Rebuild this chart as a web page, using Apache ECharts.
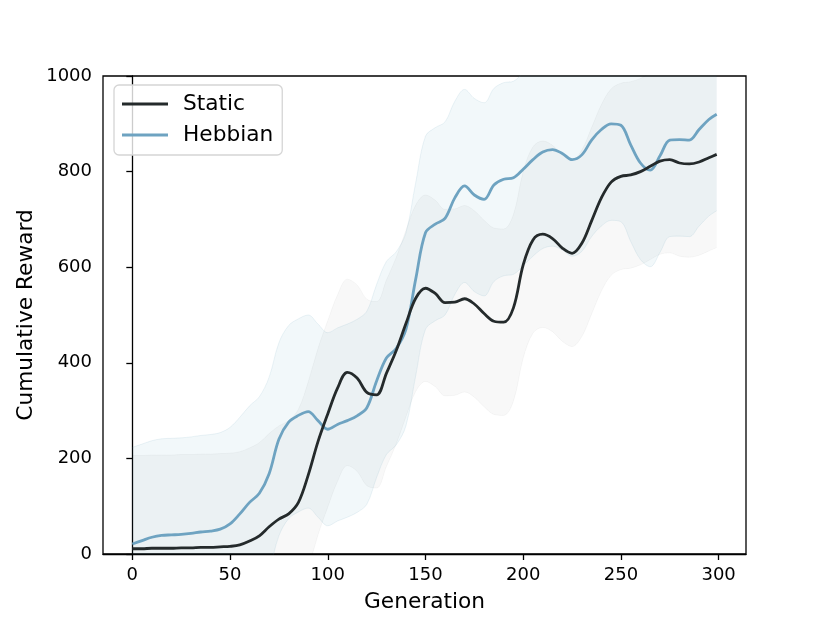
<!DOCTYPE html>
<html>
<head>
<meta charset="utf-8">
<script src="https://cdn.jsdelivr.net/npm/echarts@6/dist/echarts.min.js"></script>
<style>html,body{margin:0;padding:0;background:#fff}#chart{width:830px;height:623px}</style>
</head>
<body>
<div id="chart"></div>
<script>
const generations = [0,5,10,15,20,25,30,35,40,45,50,55,60,65,70,75,80,85,90,95,100,105,110,115,120,125,130,135,140,145,150,155,160,165,170,175,180,185,190,195,200,205,210,215,220,225,230,235,240,245,250,255,260,265,270,275,280,285,290,295,299];
const staticMean = [11,11,12,12,12,13,13,14,14,15,16,19,27,38,57,73,84,108,165,235,293,347,380,368,338,333,378,425,482,535,556,545,526,527,534,523,503,487,485,515,605,657,669,660,640,629,650,697,745,778,790,793,800,811,822,825,818,816,820,829,836];
const staticLower = [-184,-184,-183,-183,-183,-182,-182,-181,-181,-180,-179,-176,-168,-157,-138,-122,-111,-87,-30,40,98,152,185,173,143,138,183,230,287,340,361,350,331,332,339,328,308,292,290,320,410,462,474,465,445,434,455,502,550,583,595,598,605,616,627,630,623,621,625,634,641];
const staticUpper = [206,206,207,207,207,208,208,209,209,210,211,214,222,233,252,268,279,303,360,430,488,542,575,563,533,528,573,620,677,730,751,740,721,722,729,718,698,682,680,710,800,852,864,855,835,824,845,892,940,973,985,988,995,1006,1017,1020,1013,1011,1015,1024,1031];
const hebbianMean = [21,28,35,39,40,41,43,46,48,52,63,84,108,127,168,240,276,290,298,279,261,271,279,289,306,362,410,430,470,575,672,690,702,745,770,751,742,772,784,787,805,825,841,846,838,825,835,866,888,900,897,856,818,803,833,866,867,866,888,909,920];
const hebbianLower = [-181,-174,-167,-163,-162,-161,-159,-156,-154,-150,-139,-118,-94,-75,-34,38,74,88,96,77,59,69,77,87,104,160,208,228,268,373,470,488,500,543,568,549,540,570,582,585,603,623,639,644,636,623,633,664,686,698,695,654,616,601,631,664,665,664,686,707,718];
const hebbianUpper = [223,230,237,241,242,243,245,248,250,254,265,286,310,329,370,442,478,492,500,481,463,473,481,491,508,564,612,632,672,777,874,892,904,947,972,953,944,974,986,989,1007,1027,1043,1048,1040,1027,1037,1068,1090,1102,1099,1058,1020,1005,1035,1068,1069,1068,1090,1111,1122];
const xTicks = [0,50,100,150,200,250,300];
const yTicks = [0,200,400,600,800,1000];

const FONT = 'DejaVu Sans';
const STATIC_COLOR = '#242a2b';
const HEBB_COLOR = '#6ea3c1';

// rows are [value, generation]; encode maps column 1 to x and column 0 to y,
// so that stacking happens on the value (y) column.
const rows = (ys) => generations.map((g, i) => [ys[i], g]);
const diffRows = (lo, hi) => generations.map((g, i) => [hi[i] - lo[i], g]);
const ENC = {x: 1, y: 0};
const SMOOTH = 0.35;

const chart = echarts.init(document.getElementById('chart'), null, {renderer: 'canvas'});
chart.setOption({
  animation: false,
  backgroundColor: '#fff',
  grid: {left: 103, right: 84, top: 76, bottom: 69, show: true, borderColor: '#000', borderWidth: 1.3, backgroundColor: 'transparent'},
  legend: {
    orient: 'vertical', left: 114, top: 85,
    data: [{name: 'Static', icon: 'rect'}, {name: 'Hebbian', icon: 'rect'}],
    itemWidth: 46, itemHeight: 3, itemGap: 7,
    backgroundColor: 'rgba(255,255,255,0.8)', borderColor: '#d5d5d5', borderWidth: 1.3, borderRadius: 5,
    padding: [7, 9, 8, 8],
    textStyle: {fontFamily: FONT, fontSize: 21.7, color: '#000', lineHeight: 24, padding: [0, 0, 0, 10]}
  },
  xAxis: {
    type: 'value', min: -15, max: 314,
    name: 'Generation', nameLocation: 'middle', nameGap: 37,
    nameTextStyle: {fontFamily: FONT, fontSize: 21.7, color: '#000'},
    axisLine: {show: true, lineStyle: {color: '#000', width: 1.3}},
    axisTick: {show: true, length: 6, lineStyle: {color: '#000', width: 1.3}, customValues: xTicks},
    axisLabel: {fontFamily: FONT, fontSize: 18, color: '#000', margin: 12, customValues: xTicks, formatter: (v) => String(v)},
    splitLine: {show: false}
  },
  yAxis: {
    type: 'value', min: 0, max: 1000, interval: 200,
    name: 'Cumulative Reward', nameLocation: 'middle', nameGap: 66, nameRotate: 90, nameMoveOverlap: false,
    nameTextStyle: {fontFamily: FONT, fontSize: 21.7, color: '#000'},
    axisLine: {show: true, lineStyle: {color: '#000', width: 1.3}},
    axisTick: {show: true, length: 6, lineStyle: {color: '#000', width: 1.3}},
    axisLabel: {fontFamily: FONT, fontSize: 18, color: '#000', margin: 11, formatter: (v) => String(v)},
    splitLine: {show: false}
  },
  series: [
    {name: 'sLow', type: 'line', data: rows(staticLower), encode: ENC, stack: 'sb', stackStrategy: 'all', smooth: SMOOTH,
     symbol: 'none', silent: true, lineStyle: {color: 'rgba(0,0,0,0.03)', width: 1}, z: 1},
    {name: 'sBand', type: 'line', data: diffRows(staticLower, staticUpper), encode: ENC, stack: 'sb', stackStrategy: 'all', smooth: SMOOTH,
     symbol: 'none', silent: true, lineStyle: {color: 'rgba(0,0,0,0.03)', width: 1},
     areaStyle: {color: 'rgba(36,42,43,0.042)'}, z: 1},
    {name: 'hLow', type: 'line', data: rows(hebbianLower), encode: ENC, stack: 'hb', stackStrategy: 'all', smooth: SMOOTH,
     symbol: 'none', silent: true, lineStyle: {color: 'rgba(110,163,193,0.12)', width: 1}, z: 2},
    {name: 'hBand', type: 'line', data: diffRows(hebbianLower, hebbianUpper), encode: ENC, stack: 'hb', stackStrategy: 'all', smooth: SMOOTH,
     symbol: 'none', silent: true, lineStyle: {color: 'rgba(110,163,193,0.12)', width: 1},
     areaStyle: {color: 'rgba(95,160,185,0.11)'}, z: 2},
    {name: 'Static', type: 'line', data: rows(staticMean), encode: ENC, smooth: SMOOTH, symbol: 'none',
     color: STATIC_COLOR, lineStyle: {color: STATIC_COLOR, width: 2.8}, z: 5},
    {name: 'Hebbian', type: 'line', data: rows(hebbianMean), encode: ENC, smooth: SMOOTH, symbol: 'none',
     color: HEBB_COLOR, lineStyle: {color: HEBB_COLOR, width: 2.8}, z: 4}
  ]
});
</script>
</body>
</html>
